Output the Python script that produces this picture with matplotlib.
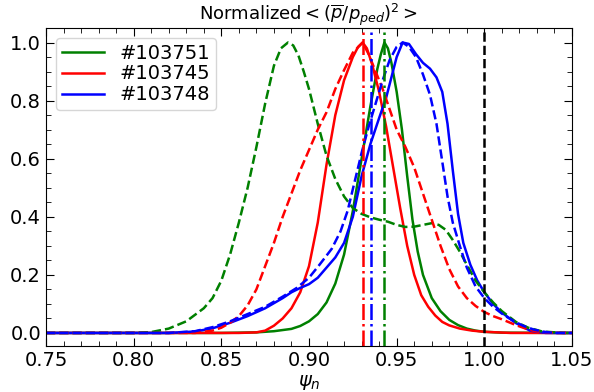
import matplotlib
matplotlib.use("Agg")
import matplotlib.pyplot as plt
from matplotlib.ticker import MultipleLocator

# ---- data ----
g_sol_x = [0.75, 0.85, 0.87, 0.88, 0.89, 0.895, 0.90, 0.905, 0.91, 0.915, 0.92, 0.925, 0.93, 0.935, 0.939,
           0.941, 0.943, 0.945, 0.947, 0.95, 0.953, 0.956, 0.959, 0.962, 0.965, 0.97, 0.975, 0.98, 0.985,
           0.99, 0.995, 1.0, 1.01, 1.05]
g_sol_y = [0, 0, 0.002, 0.006, 0.014, 0.024, 0.04, 0.065, 0.105, 0.17, 0.27, 0.42, 0.60, 0.78, 0.91,
           0.96, 1.0, 0.98, 0.93, 0.83, 0.70, 0.54, 0.39, 0.28, 0.20, 0.12, 0.075, 0.045, 0.027,
           0.015, 0.008, 0.004, 0.001, 0]

r_sol_x = [0.75, 0.86, 0.87, 0.875, 0.88, 0.885, 0.89, 0.895, 0.90, 0.905, 0.91, 0.915, 0.92, 0.925, 0.928,
           0.9306, 0.933, 0.936, 0.94, 0.944, 0.948, 0.952, 0.956, 0.96, 0.964, 0.968, 0.972, 0.976, 0.98,
           0.986, 0.993, 1.0, 1.015, 1.05]
r_sol_y = [0, 0, 0.002, 0.008, 0.025, 0.05, 0.085, 0.14, 0.23, 0.38, 0.58, 0.75, 0.87, 0.95, 0.985,
           1.0, 0.98, 0.925, 0.83, 0.71, 0.57, 0.43, 0.30, 0.20, 0.13, 0.09, 0.06, 0.038, 0.026,
           0.015, 0.008, 0.004, 0, 0]

b_sol_x = [0.75, 0.82, 0.835, 0.845, 0.855, 0.865, 0.875, 0.885, 0.89, 0.895, 0.90, 0.905, 0.91, 0.915,
           0.92, 0.925, 0.93, 0.935, 0.94, 0.944, 0.947, 0.95, 0.9534, 0.957, 0.961, 0.965, 0.969, 0.9727,
           0.976, 0.979, 0.982, 0.985, 0.988, 0.992, 0.996, 1.0, 1.005, 1.01, 1.018, 1.026, 1.035, 1.05]
b_sol_y = [0, 0, 0.005, 0.016, 0.035, 0.058, 0.085, 0.12, 0.14, 0.155, 0.168, 0.19, 0.225, 0.26,
           0.31, 0.40, 0.54, 0.65, 0.74, 0.81, 0.88, 0.95, 1.0, 0.995, 0.96, 0.93, 0.91, 0.88,
           0.83, 0.72, 0.56, 0.41, 0.31, 0.235, 0.18, 0.14, 0.10, 0.07, 0.034, 0.008, 0, 0]

g_dash_x = [0.75, 0.80, 0.81, 0.82, 0.83, 0.84, 0.845, 0.85, 0.855, 0.86, 0.865, 0.87, 0.875, 0.88, 0.884,
            0.888, 0.891, 0.894, 0.897, 0.90, 0.905, 0.91, 0.915, 0.92, 0.925, 0.93, 0.935, 0.94, 0.945,
            0.95, 0.955, 0.96, 0.965, 0.97, 0.974, 0.978, 0.982, 0.986, 0.99, 0.995, 1.0, 1.005, 1.01,
            1.018, 1.025, 1.033, 1.045, 1.05]
g_dash_y = [0, 0, 0.003, 0.015, 0.04, 0.085, 0.12, 0.18, 0.27, 0.38, 0.50, 0.64, 0.79, 0.92, 0.98,
            1.0, 0.99, 0.955, 0.90, 0.84, 0.72, 0.61, 0.53, 0.47, 0.43, 0.41, 0.398, 0.39, 0.383,
            0.372, 0.365, 0.366, 0.372, 0.378, 0.372, 0.355, 0.32, 0.28, 0.235, 0.18, 0.14, 0.105, 0.075,
            0.038, 0.018, 0.005, 0, 0]

r_dash_x = [0.75, 0.835, 0.845, 0.85, 0.855, 0.86, 0.865, 0.87, 0.875, 0.88, 0.885, 0.89, 0.895, 0.90,
            0.905, 0.91, 0.915, 0.92, 0.925, 0.9306, 0.934, 0.938, 0.942, 0.946, 0.95, 0.955, 0.96, 0.965,
            0.97, 0.975, 0.98, 0.985, 0.99, 0.995, 1.0, 1.005, 1.01, 1.018, 1.025, 1.03, 1.04, 1.05]
r_dash_y = [0, 0, 0.008, 0.018, 0.035, 0.058, 0.095, 0.15, 0.23, 0.31, 0.40, 0.48, 0.56, 0.63,
            0.70, 0.76, 0.84, 0.905, 0.965, 1.0, 0.96, 0.90, 0.84, 0.77, 0.70, 0.64, 0.57, 0.48,
            0.39, 0.30, 0.22, 0.16, 0.12, 0.093, 0.072, 0.058, 0.047, 0.027, 0.012, 0.005, 0, 0]

b_dash_x = [0.75, 0.82, 0.835, 0.845, 0.855, 0.865, 0.875, 0.885, 0.893, 0.90, 0.906, 0.913, 0.918, 0.922,
            0.926, 0.93, 0.934, 0.938, 0.942, 0.946, 0.95, 0.9534, 0.957, 0.961, 0.965, 0.969, 0.9727,
            0.976, 0.979, 0.982, 0.986, 0.99, 0.995, 1.0, 1.005, 1.011, 1.017, 1.022, 1.028, 1.034, 1.04,
            1.05]
b_dash_y = [0, 0, 0.006, 0.02, 0.04, 0.065, 0.09, 0.125, 0.155, 0.19, 0.235, 0.29, 0.35, 0.42,
            0.52, 0.62, 0.71, 0.79, 0.87, 0.94, 0.985, 1.0, 0.985, 0.95, 0.89, 0.82, 0.72,
            0.59, 0.47, 0.38, 0.30, 0.225, 0.16, 0.12, 0.09, 0.062, 0.04, 0.025, 0.012, 0.004, 0,
            0]

vlines_x = [0.9307, 0.9351, 0.9427]   # red, blue, green dash-dot
sep_x = 1.0
labels = ["#103751", "#103745", "#103748"]

fig = plt.figure(figsize=(5.94, 3.92), dpi=100)
ax = fig.add_axes([0.0774, 0.1173, 0.8856, 0.8113])

lw = 1.8
ax.plot(g_sol_x, g_sol_y, color="green", lw=lw, label=labels[0])
ax.plot(r_sol_x, r_sol_y, color="red", lw=lw, label=labels[1])
ax.plot(b_sol_x, b_sol_y, color="blue", lw=lw, label=labels[2])
ax.plot(g_dash_x, g_dash_y, color="green", lw=lw, ls="--")
ax.plot(r_dash_x, r_dash_y, color="red", lw=lw, ls="--")
ax.plot(b_dash_x, b_dash_y, color="blue", lw=lw, ls="--")

for xv, c in zip(vlines_x, ["red", "blue", "green"]):
    ax.axvline(xv, color=c, lw=lw, ls="-.")
ax.axvline(sep_x, color="black", lw=lw, ls="--")

ax.set_xlim(0.75, 1.05)
ax.set_ylim(-0.045, 1.05)
ax.xaxis.set_major_locator(MultipleLocator(0.05))
ax.xaxis.set_minor_locator(MultipleLocator(0.01))
ax.yaxis.set_major_locator(MultipleLocator(0.2))
ax.yaxis.set_minor_locator(MultipleLocator(0.05))
ax.tick_params(which="both", direction="in", top=True, right=True, labelsize=14)
ax.tick_params(which="major", length=6)
ax.tick_params(which="minor", length=3.5)
ax.set_xticklabels([f"{v:.2f}" for v in ax.get_xticks()])
ax.set_yticklabels([f"{v:.1f}" for v in ax.get_yticks()])
ax.set_xlim(0.75, 1.05)
ax.set_ylim(-0.045, 1.05)

ax.set_xlabel(r"$\psi_n$", fontsize=14, labelpad=2)
ax.set_title(r"Normalized$<(\overline{p}/p_{ped})^2>$", fontsize=13, pad=4)
ax.legend(loc="upper left", fontsize=14, handlelength=2.2, borderpad=0.3, labelspacing=0.1,
          bbox_to_anchor=(0.0, 1.0))

fig.savefig("out.png", dpi=100)
